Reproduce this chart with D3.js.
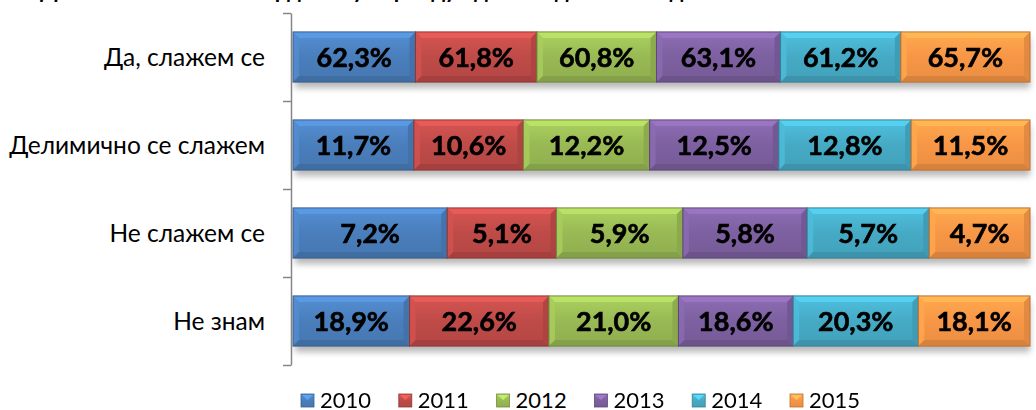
<!DOCTYPE html>
<html>
<head>
<meta charset="utf-8">
<script src="https://cdn.jsdelivr.net/npm/d3@7"></script>
<style>
  html, body { margin: 0; padding: 0; background: #fff; }
  svg { display: block; }
  text { font-family: Lato, "Open Sans", sans-serif; }
</style>
</head>
<body>
<svg id="chart" width="1036" height="410"></svg>
<script>
// Answers by year, shares in percent for each answer category
const categories = ["Да, слажем се", "Делимично се слажем", "Не слажем се", "Не знам"];
const years = ["2010", "2011", "2012", "2013", "2014", "2015"];
const v2010 = [62.3, 11.7, 7.2, 18.9];
const v2011 = [61.8, 10.6, 5.1, 22.6];
const v2012 = [60.8, 12.2, 5.9, 21.0];
const v2013 = [63.1, 12.5, 5.8, 18.6];
const v2014 = [61.2, 12.8, 5.7, 20.3];
const v2015 = [65.7, 11.5, 4.7, 18.1];
const seriesValues = [v2010, v2011, v2012, v2013, v2014, v2015];
const seriesColors = ["#4a7ebb", "#be4b48", "#98b954", "#7d60a0", "#46aac5", "#f79646"];
const titleText = "Да ли се слажете са тврдњом у периоду од 2010. до 2015. године";

const rows = categories.map((c, i) => {
  const r = { category: c };
  years.forEach((y, j) => { r[y] = seriesValues[j][i]; });
  return r;
});

const svg = d3.select("#chart");
const plot = { left: 293, right: 1030, top: 13, bottom: 365 };

const x = d3.scaleLinear().domain([0, 1]).range([plot.left, plot.right]);
const y = d3.scaleBand().domain(categories).range([plot.top, plot.bottom])
  .paddingInner(0.43).paddingOuter(0.215);
const color = d3.scaleOrdinal().domain(years).range(seriesColors);

const stacked = d3.stack().keys(years).offset(d3.stackOffsetExpand)(rows);

const defs = svg.append("defs");
const shadow = defs.append("filter").attr("id", "barShadow")
  .attr("x", "-5%").attr("y", "-30%").attr("width", "110%").attr("height", "180%");
shadow.append("feGaussianBlur").attr("stdDeviation", 3);

years.forEach(yr => {
  const base = d3.color(color(yr));
  const g = defs.append("linearGradient").attr("id", "grad" + yr)
    .attr("x1", 0).attr("y1", 0).attr("x2", 0).attr("y2", 1);
  g.append("stop").attr("offset", "0%").attr("stop-color", base.brighter(0.35));
  g.append("stop").attr("offset", "50%").attr("stop-color", base);
  g.append("stop").attr("offset", "100%").attr("stop-color", base.darker(0.15));
});

// Title (runs off the top edge)
svg.append("text")
  .attr("x", 40).attr("y", -2)
  .attr("font-size", 22).attr("font-weight", 700).attr("fill", "#000")
  .text(titleText);

// Bar shadows
const shadowLayer = svg.append("g").attr("filter", "url(#barShadow)");
shadowLayer.selectAll("rect").data(categories).join("rect")
  .attr("x", plot.left + 2)
  .attr("y", d => y(d) + 6)
  .attr("width", plot.right - plot.left - 2)
  .attr("height", y.bandwidth())
  .attr("fill", "#000").attr("opacity", 0.28);

// Bar segments with bevelled edges
const bev = 6;
const layers = svg.append("g").selectAll("g").data(stacked).join("g");
const segs = layers.selectAll("g").data(s => s.map(d => ({ key: s.key, d })))
  .join("g")
  .attr("transform", o => `translate(${x(o.d[0])},${y(o.d.data.category)})`);

segs.each(function(o) {
  const g = d3.select(this);
  const w = x(o.d[1]) - x(o.d[0]);
  const h = y.bandwidth();
  const base = d3.color(color(o.key));
  g.append("rect").attr("width", w).attr("height", h).attr("fill", `url(#grad${o.key})`);
  g.append("polygon").attr("points", `0,0 ${w},0 ${w - bev},${bev} ${bev},${bev}`)
    .attr("fill", base.brighter(0.6)).attr("opacity", 0.85);
  g.append("polygon").attr("points", `0,0 ${bev},${bev} ${bev},${h - bev} 0,${h}`)
    .attr("fill", base.brighter(0.3)).attr("opacity", 0.8);
  g.append("polygon").attr("points", `0,${h} ${bev},${h - bev} ${w - bev},${h - bev} ${w},${h}`)
    .attr("fill", base.darker(0.45)).attr("opacity", 0.85);
  g.append("polygon").attr("points", `${w},0 ${w},${h} ${w - bev},${h - bev} ${w - bev},${bev}`)
    .attr("fill", base.darker(0.3)).attr("opacity", 0.85);
  g.append("rect").attr("width", w).attr("height", h).attr("fill", "none")
    .attr("stroke", base.darker(0.8)).attr("stroke-width", 1);
});

// Value labels
const fmt = v => d3.format(".1f")(v).replace(".", ",") + "%";
segs.append("text")
  .attr("x", o => (x(o.d[1]) - x(o.d[0])) / 2)
  .attr("y", y.bandwidth() / 2)
  .attr("dy", "0.36em")
  .attr("text-anchor", "middle")
  .attr("font-size", 27).attr("font-weight", 700).attr("fill", "#000")
  .attr("stroke", "#000").attr("stroke-width", 0.6)
  .text(o => fmt(o.d.data[o.key]));

// Category axis with ticks at band boundaries
const yb = d3.scaleLinear().domain([0, categories.length]).range([plot.top, plot.bottom]);
const axis = svg.append("g").attr("transform", `translate(291,0)`)
  .call(d3.axisLeft(yb).tickValues(d3.range(categories.length + 1)).tickFormat("")
    .tickSize(8).tickSizeOuter(0));
axis.selectAll("path, line").attr("stroke", "#868686").attr("stroke-width", 1.5);

svg.append("g").selectAll("text").data(categories).join("text")
  .attr("x", 265).attr("y", d => y(d) + y.bandwidth() / 2)
  .attr("dy", "0.35em").attr("text-anchor", "end")
  .attr("font-size", 24.5).attr("fill", "#000")
  .text(d => d);

// Legend
const legend = svg.append("g").selectAll("g").data(years).join("g")
  .attr("transform", (d, i) => `translate(${301 + i * 97.8},394)`);
legend.append("rect").attr("width", 13).attr("height", 13)
  .attr("fill", d => `url(#grad${d})`)
  .attr("stroke", d => d3.color(color(d)).darker(0.8)).attr("stroke-width", 0.8);
legend.append("polygon").attr("points", "1,1 12,1 6.5,6")
  .attr("fill", d => d3.color(color(d)).brighter(0.7));
legend.append("text").attr("x", 19).attr("y", 14)
  .attr("font-size", 22).attr("fill", "#000")
  .text(d => d);
</script>
</body>
</html>
